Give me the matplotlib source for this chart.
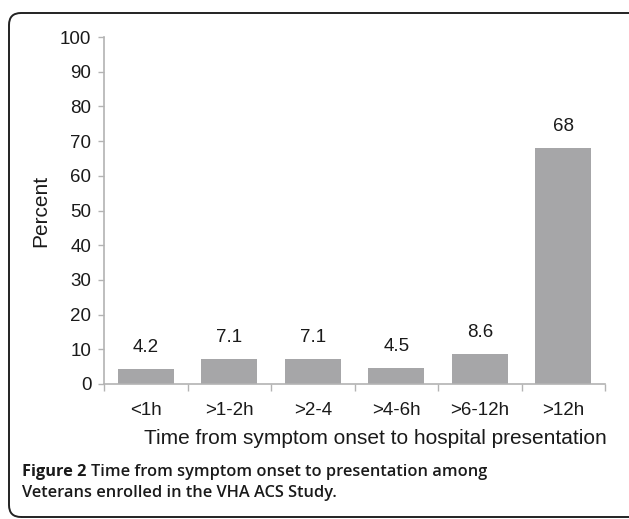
import matplotlib.pyplot as plt
from matplotlib.patches import FancyBboxPatch

categories = ['<1h', '>1-2h', '>2-4', '>4-6h', '>6-12h', '>12h']
percent = [4.2, 7.1, 7.1, 4.5, 8.6, 68]
value_labels = ['4.2', '7.1', '7.1', '4.5', '8.6', '68']
yticks = [0, 10, 20, 30, 40, 50, 60, 70, 80, 90, 100]

W, H = 629, 519
fig = plt.figure(figsize=(W/100, H/100), dpi=100)
plt.rcParams['font.family'] = ['Liberation Sans', 'DejaVu Sans']

# rounded frame round the whole figure
frame = FancyBboxPatch((9, 2), 650, H-15, boxstyle="round,pad=0,rounding_size=12",
                       transform=None, facecolor='none', edgecolor='#222222', lw=1.4)
fig.patches.append(frame)

ax = fig.add_axes([104/W, (H-384)/H, 501/W, 347/H])
axis_col = '#b3b3b3'
bar_col = '#a6a6a8'
txt_col = '#1a1a1a'

x = list(range(len(categories)))
ax.bar(x, percent, width=0.67, color=bar_col)
for xi, v, lab in zip(x, percent, value_labels):
    ax.annotate(lab, (xi, v), xytext=(0, 15.5), textcoords='offset points',
                ha='center', va='center', fontsize=13.5, color=txt_col)

ax.set_xlim(-0.5, len(categories)-0.5)
ax.set_ylim(0, 100)
ax.set_yticks(yticks)
ax.set_xticks(x)
ax.set_xticklabels(categories)
ax.set_xticks([i-0.5 for i in range(len(categories)+1)], minor=True)
ax.tick_params(axis='x', which='major', length=0, pad=13, labelsize=13.5, labelcolor=txt_col)
ax.tick_params(axis='x', which='minor', length=5, color=axis_col, width=1)
ax.tick_params(axis='y', length=4, color=axis_col, width=1, pad=5, labelsize=13.5, labelcolor=txt_col)

for s in ['top', 'right']:
    ax.spines[s].set_visible(False)
for s in ['left', 'bottom']:
    ax.spines[s].set_color(axis_col)
    ax.spines[s].set_linewidth(1.2)

ax.set_ylabel('Percent', fontsize=15, color=txt_col, labelpad=7)
ax.set_xlabel('Time from symptom onset to hospital presentation', fontsize=15,
              color=txt_col)
ax.xaxis.set_label_coords((375-104)/501, -(438-384)/347)
ax.xaxis.label.set_va('center')

# caption
cap_font = ['Open Sans', 'DejaVu Sans']
cap_size = 11.8
t1 = fig.text(22/W, 1-472/H, 'Figure 2 ', fontsize=cap_size, fontweight='bold', family=cap_font,
              va='center', ha='left', color=txt_col)
r = fig.canvas.get_renderer()
bb = t1.get_window_extent(renderer=r)
fig.text(bb.x1/W, 1-472/H, 'Time from symptom onset to presentation among',
         fontsize=cap_size, fontweight='semibold', family=cap_font, va='center', ha='left', color=txt_col)
fig.text(22/W, 1-493/H, 'Veterans enrolled in the VHA ACS Study.', fontsize=cap_size,
         fontweight='semibold', family=cap_font, va='center', ha='left', color=txt_col)

fig.savefig('out.png', dpi=100)
